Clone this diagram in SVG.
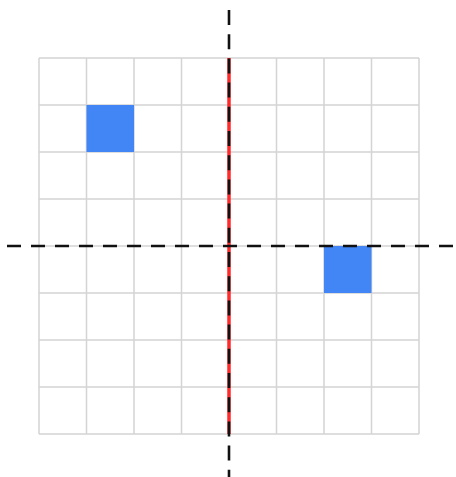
<svg xmlns="http://www.w3.org/2000/svg" width="456" height="477" viewBox="0 0 456 477">
<style>
.grid{stroke:#d4d4d4;stroke-width:1.5;fill:none}
.cell{fill:#4285f4}
.axis{stroke:#111;stroke-width:2.6;stroke-dasharray:14 10;fill:none}
.mirror{stroke:#ff2a2a;stroke-width:3.5;fill:none}
</style>
<rect width="456" height="477" fill="#fff"/>
<g id="grid" class="grid">
<path d="M39 58V434M86.5 58V434M134 58V434M181.5 58V434M229 58V434M276.5 58V434M324 58V434M371.5 58V434M419 58V434"/>
<path d="M39 58H419M39 105H419M39 152H419M39 199H419M39 246H419M39 293H419M39 340H419M39 387H419M39 434H419"/>
</g>
<g id="cell-a"><rect class="cell" x="86.5" y="105" width="47.5" height="47"/></g>
<g id="cell-b"><rect class="cell" x="324" y="246" width="47.5" height="47"/></g>
<g id="connectors">
<line class="mirror" x1="229" y1="58" x2="229" y2="434"/>
<line class="axis" x1="7" y1="246" x2="456" y2="246"/>
<line class="axis" x1="229" y1="10" x2="229" y2="477" style="stroke-dasharray:15 9.2"/>
</g>
</svg>
